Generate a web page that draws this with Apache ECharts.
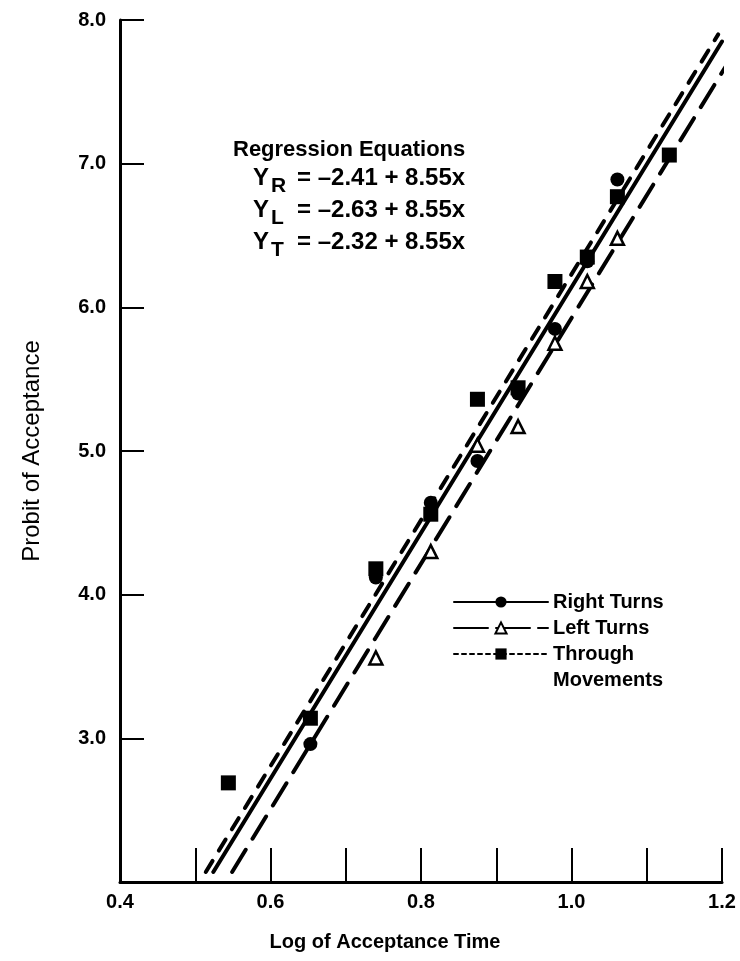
<!DOCTYPE html>
<html>
<head>
<meta charset="utf-8">
<script src="https://cdn.jsdelivr.net/npm/echarts@6/dist/echarts.min.js"></script>
<style>
html,body{margin:0;padding:0;background:#fff;}
#chart{width:740px;height:961px;}
</style>
</head>
<body>
<div id="chart"></div>
<script>
// ---- data ----
const rightX = [0.653, 0.740, 0.813, 0.875, 0.929, 0.978, 1.021, 1.061];
const rightY = [2.96, 4.12, 4.64, 4.93, 5.40, 5.85, 6.32, 6.89];

const leftX = [0.740, 0.813, 0.875, 0.929, 0.978, 1.021, 1.061];
const leftY = [3.56, 4.30, 5.04, 5.17, 5.75, 6.18, 6.48];

const throughX = [0.544, 0.653, 0.740, 0.813, 0.875, 0.929, 0.978, 1.021, 1.061, 1.130];
const throughY = [2.69, 3.14, 4.18, 4.56, 5.36, 5.44, 6.18, 6.35, 6.77, 7.06];

// regression line end points (x, y) as drawn in the figure
const rightLine = [[0.524, 2.07], [1.200, 7.85]];
const leftLine = [[0.549, 2.07], [1.210, 7.72]];
const throughLine = [[0.514, 2.07], [1.195, 7.90]];

const equationTitle = 'Regression Equations';
const equationSubs = ['R', 'L', 'T'];
const equationRest = ['= –2.41 + 8.55x', '= –2.63 + 8.55x', '= –2.32 + 8.55x'];

const seriesNames = ['Right Turns', 'Left Turns', 'Through'];
const legendExtra = 'Movements';
const yAxisTitle = 'Probit of Acceptance';
const xAxisTitle = 'Log of Acceptance Time';

// ---- chart ----
const FONT = '"Liberation Sans", Arial, Helvetica, sans-serif';
const zip = (xs, ys) => xs.map((x, i) => [x, ys[i]]);

const chart = echarts.init(document.getElementById('chart'), null, {renderer: 'canvas'});

const graphic = [
  {type: 'text', left: 233, top: 139, style: {text: equationTitle, font: 'bold 22px ' + FONT, fill: '#000'}}
];
const eqTops = [166, 198, 230];
equationSubs.forEach((s, i) => {
  graphic.push({type: 'text', left: 253, top: eqTops[i], style: {text: 'Y', font: 'bold 24px ' + FONT, fill: '#000'}});
  graphic.push({type: 'text', left: 271, top: eqTops[i] + 10, style: {text: s, font: 'bold 21px ' + FONT, fill: '#000'}});
  graphic.push({type: 'text', left: 297, top: eqTops[i], style: {text: equationRest[i], font: 'bold 24px ' + FONT, fill: '#000'}});
});
graphic.push({type: 'text', left: 553, top: 670, style: {text: legendExtra, font: 'bold 20px ' + FONT, fill: '#000'}});

const option = {
  animation: false,
  backgroundColor: '#fff',
  grid: {left: 120, right: 18, top: 20, bottom: 79, containLabel: false},
  xAxis: {
    type: 'value', min: 0.4, max: 1.2, interval: 0.1,
    axisLine: {show: true, onZero: false, lineStyle: {color: '#000', width: 3}},
    axisTick: {show: true, inside: true, length: 34, lineStyle: {color: '#000', width: 2}},
    splitLine: {show: false},
    axisLabel: {
      color: '#000', fontWeight: 'bold', fontSize: 20, fontFamily: FONT, margin: 10,
      formatter: v => (Math.round(v * 10) % 2 === 0 ? v.toFixed(1) : '')
    },
    name: xAxisTitle, nameLocation: 'middle', nameGap: 50,
    nameTextStyle: {color: '#000', fontWeight: 'bold', fontSize: 20, fontFamily: FONT, padding: [0, 72, 0, 0]}
  },
  yAxis: {
    type: 'value', min: 2, max: 8, interval: 1,
    axisLine: {show: true, onZero: false, lineStyle: {color: '#000', width: 3}},
    axisTick: {show: true, inside: true, length: 24, lineStyle: {color: '#000', width: 2}},
    splitLine: {show: false},
    axisLabel: {
      color: '#000', fontWeight: 'bold', fontSize: 20, fontFamily: FONT, margin: 14,
      formatter: v => (v < 2.5 ? '' : v.toFixed(1))
    },
    name: yAxisTitle, nameLocation: 'middle', nameGap: 76, nameRotate: 90,
    nameTextStyle: {color: '#000', fontSize: 24, fontFamily: FONT}
  },
  legend: {
    orient: 'vertical', left: 448, top: 587, itemWidth: 94, itemHeight: 14, itemGap: 6,
    textStyle: {color: '#000', fontWeight: 'bold', fontSize: 20, fontFamily: FONT},
    data: [
      {name: seriesNames[0]},
      {name: seriesNames[1], lineStyle: {type: [34, 8]}},
      {name: seriesNames[2], lineStyle: {type: [4, 4]}}
    ]
  },
  graphic: graphic,
  series: [
    {
      name: seriesNames[0], type: 'line', data: rightLine, clip: false,
      symbol: 'circle', symbolSize: 13, showSymbol: false, color: '#000',
      lineStyle: {color: '#000', width: 4, type: 'solid', cap: 'round'},
      itemStyle: {color: '#000'}, z: 2
    },
    {
      name: seriesNames[1], type: 'line', data: leftLine, clip: false,
      symbol: 'triangle', symbolSize: 13, showSymbol: false, color: '#000',
      lineStyle: {color: '#000', width: 4, type: [26, 13], cap: 'round'},
      itemStyle: {color: '#fff', borderColor: '#000', borderWidth: 2.5}, z: 2
    },
    {
      name: seriesNames[2], type: 'line', data: throughLine, clip: false,
      symbol: 'rect', symbolSize: 14, showSymbol: false, color: '#000',
      lineStyle: {color: '#000', width: 4, type: [13, 12], cap: 'round'},
      itemStyle: {color: '#000'}, z: 2
    },
    {
      name: 'pts-through', type: 'scatter', data: zip(throughX, throughY),
      symbol: 'rect', symbolSize: 15, itemStyle: {color: '#000', opacity: 1}, z: 5
    },
    {
      name: 'pts-right', type: 'scatter', data: zip(rightX, rightY),
      symbol: 'circle', symbolSize: 14, itemStyle: {color: '#000', opacity: 1}, z: 6
    },
    {
      name: 'pts-left', type: 'scatter', data: zip(leftX, leftY),
      symbol: 'triangle', symbolSize: 13,
      itemStyle: {color: '#fff', borderColor: '#000', borderWidth: 2.5, opacity: 1}, z: 7
    }
  ]
};
chart.setOption(option);
</script>
</body>
</html>
